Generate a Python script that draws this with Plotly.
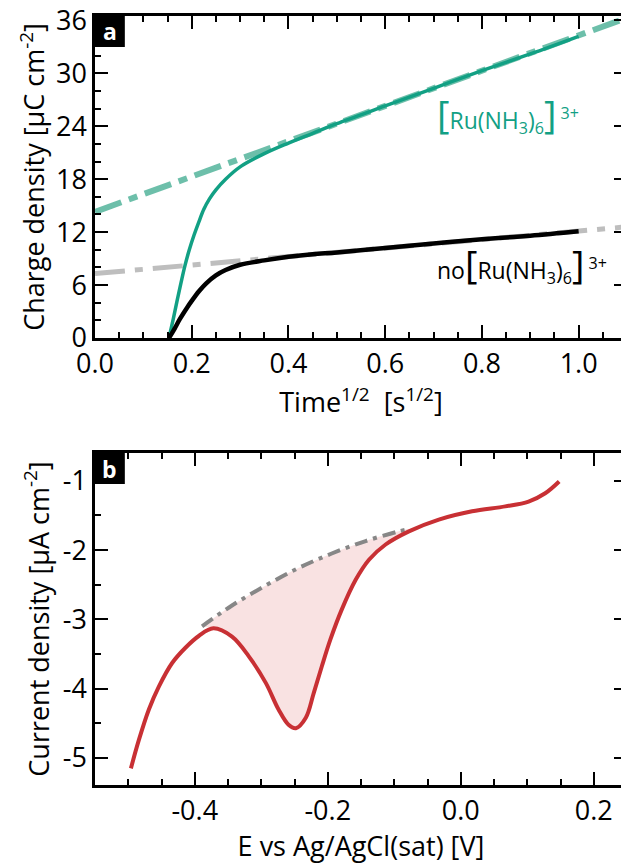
import plotly.graph_objects as go

# ---------------- Panel a data ----------------
t_ru = [0.153, 0.162, 0.170, 0.178, 0.186, 0.195, 0.205, 0.215, 0.225, 0.237, 0.25, 0.27, 0.30, 0.35, 0.40,
        0.45, 0.50, 0.60, 0.70, 0.80, 0.90, 1.00]
q_ru = [0.0, 2.2, 4.3, 6.3, 8.2, 10.0, 11.7, 13.2, 14.6, 15.8, 16.8, 18.0, 19.4, 20.9, 22.1,
        23.2, 24.3, 26.3, 28.3, 30.3, 32.2, 34.2]
t_no = [0.153, 0.165, 0.175, 0.19, 0.20, 0.215, 0.23, 0.25, 0.27, 0.30, 0.35, 0.40, 0.45, 0.50, 0.60,
        0.70, 0.80, 0.90, 1.00]
q_no = [0.0, 1.1, 2.1, 3.4, 4.2, 5.3, 6.2, 7.1, 7.7, 8.3, 8.8, 9.2, 9.5, 9.7, 10.2,
        10.7, 11.2, 11.6, 12.1]
fit_t = [0.0, 1.1]
fit_ru = [14.3, 36.3]
fit_no = [7.3, 12.6]
a_xticks = [0.0, 0.2, 0.4, 0.6, 0.8, 1.0]
a_xticklabels = ["0.0", "0.2", "0.4", "0.6", "0.8", "1.0"]
a_yticks = [0, 6, 12, 18, 24, 30, 36]

# ---------------- Panel b data ----------------
E_red = [-0.496, -0.484, -0.469, -0.454, -0.434, -0.414, -0.394, -0.372, -0.344, -0.319, -0.293,
         -0.274, -0.259, -0.248, -0.233, -0.221, -0.209, -0.196, -0.179, -0.158, -0.138, -0.113,
         -0.078, -0.033, 0.017, 0.067, 0.102, 0.127, 0.148]
j_red = [-5.15, -4.74, -4.30, -3.97, -3.63, -3.41, -3.24, -3.13, -3.25, -3.53, -3.92,
         -4.30, -4.52, -4.57, -4.42, -4.06, -3.68, -3.29, -2.86, -2.43, -2.14, -1.92,
         -1.73, -1.56, -1.44, -1.37, -1.30, -1.18, -1.01]
E_base = [-0.389, -0.344, -0.293, -0.244, -0.194, -0.143, -0.093, -0.078]
j_base = [-3.10, -2.80, -2.51, -2.26, -2.05, -1.87, -1.73, -1.70]
b_xticks = [-0.4, -0.2, 0.0, 0.2]
b_xticklabels = ["-0.4", "-0.2", "0.0", "0.2"]
b_yticks = [-5, -4, -3, -2, -1]
b_yticklabels = ["-5", "-4", "-3", "-2", "-1"]

TEAL = "rgb(18,160,132)"
TEAL_FIT = "rgba(40,160,130,0.68)"
RED = "rgb(200,48,52)"
FONT = "Open Sans"
FS = 27

fig = go.Figure()

# panel a
fig.add_trace(go.Scatter(x=fit_t, y=fit_ru, mode="lines", xaxis="x", yaxis="y",
                         line=dict(color=TEAL_FIT, width=6, dash="28px,8px,9px,8px"), showlegend=False))
fig.add_trace(go.Scatter(x=fit_t, y=fit_no, mode="lines", xaxis="x", yaxis="y",
                         line=dict(color="rgb(190,190,190)", width=5, dash="30px,10px,8px,10px"), showlegend=False))
fig.add_trace(go.Scatter(x=t_ru, y=q_ru, mode="lines", xaxis="x", yaxis="y",
                         line=dict(color=TEAL, width=3.5, shape="spline", smoothing=1.0), showlegend=False))
fig.add_trace(go.Scatter(x=t_no, y=q_no, mode="lines", xaxis="x", yaxis="y",
                         line=dict(color="black", width=4.5, shape="spline", smoothing=1.0), showlegend=False))

# panel b: filled area between baseline and curve
red_seg_x = [e for e in E_red if E_base[0] < e <= E_base[-1]]
red_seg_y = [j for e, j in zip(E_red, j_red) if E_base[0] < e <= E_base[-1]]
poly_x = E_base + red_seg_x[::-1]
poly_y = j_base + red_seg_y[::-1]
fig.add_trace(go.Scatter(x=poly_x, y=poly_y, mode="lines", xaxis="x2", yaxis="y2", fill="toself",
                         fillcolor="rgba(215,60,60,0.15)", line=dict(width=0, shape="spline"),
                         showlegend=False, hoverinfo="skip"))
fig.add_trace(go.Scatter(x=E_base, y=j_base, mode="lines", xaxis="x2", yaxis="y2",
                         line=dict(color="rgb(135,135,135)", width=4, dash="13px,6px,4px,6px", shape="spline"),
                         showlegend=False))
fig.add_trace(go.Scatter(x=E_red, y=j_red, mode="lines", xaxis="x2", yaxis="y2",
                         line=dict(color=RED, width=4, shape="spline", smoothing=1.0), showlegend=False))

axis_common = dict(showline=True, linecolor="black", linewidth=2.5, mirror="ticks",
                   ticks="inside", ticklen=13, tickwidth=2, tickcolor="black",
                   showgrid=False, zeroline=False,
                   tickfont=dict(family=FONT, size=FS, color="black"))

fig.update_layout(
    width=631, height=864,
    margin=dict(l=95, r=1, t=16, b=79),
    paper_bgcolor="white", plot_bgcolor="white",
    font=dict(family=FONT, size=FS, color="black"),
    xaxis=dict(domain=[0, 1], anchor="y", range=[0, 1.1], tickmode="array",
               tickvals=a_xticks, ticktext=a_xticklabels,
               minor=dict(dtick=0.05, tick0=0, ticks="inside", ticklen=6, tickwidth=2, tickcolor="black"),
               title=dict(text="Time<sup>1/2</sup>  [s<sup>1/2</sup>]", standoff=2,
                          font=dict(family=FONT, size=FS)),
               **axis_common),
    yaxis=dict(domain=[0.5813, 1.0], anchor="x", range=[0, 36.5], tickmode="array",
               tickvals=a_yticks, ticktext=[str(v) for v in a_yticks],
               minor=dict(dtick=2, tick0=0, ticks="inside", ticklen=6, tickwidth=2, tickcolor="black"),
               title=dict(text="Charge density [μC cm<sup>-2</sup>]", standoff=4,
                          font=dict(family=FONT, size=FS)),
               **axis_common),
    xaxis2=dict(domain=[0, 1], anchor="y2", range=[-0.55, 0.25], tickmode="array",
                tickvals=b_xticks, ticktext=b_xticklabels,
                minor=dict(dtick=0.05, tick0=0, ticks="inside", ticklen=6, tickwidth=2, tickcolor="black"),
                title=dict(text="E vs Ag/AgCl(sat) [V]", standoff=10,
                           font=dict(family=FONT, size=FS)),
                **axis_common),
    yaxis2=dict(domain=[0, 0.4317], anchor="x2", range=[-5.39, -0.6], tickmode="array",
                tickvals=b_yticks, ticktext=b_yticklabels,
                minor=dict(dtick=0.5, tick0=0, ticks="inside", ticklen=6, tickwidth=2, tickcolor="black"),
                title=dict(text="Current density [μA cm<sup>-2</sup>]", standoff=6,
                           font=dict(family=FONT, size=FS)),
                **axis_common),
)

# panel letter boxes
for xr, yr, letter, h in [("x domain", "y domain", "a", 31 / 322), ("x2 domain", "y2 domain", "b", 31 / 332)]:
    fig.add_shape(type="rect", xref=xr, yref=yr, x0=0, x1=30 / 535, y0=1 - h, y1=1,
                  fillcolor="black", line=dict(width=0), layer="above")
    fig.add_annotation(xref=xr, yref=yr, x=15 / 535, y=1 - h / 2, text=f"<b>{letter}</b>",
                       showarrow=False, xanchor="center", yanchor="middle",
                       font=dict(family=FONT, size=23, color="white"))

BR = "<span style='font-size:38px'>[</span>"
BRC = "<span style='font-size:38px'>]</span>"
fig.add_annotation(xref="x", yref="y", x=0.703, y=25.4, xanchor="left", yanchor="middle",
                   text=BR + "Ru(NH<sub>3</sub>)<sub>6</sub>" + BRC + "<sup> 3+</sup>",
                   showarrow=False, font=dict(family=FONT, size=23, color=TEAL))
fig.add_annotation(xref="x", yref="y", x=0.703, y=8.4, xanchor="left", yanchor="middle",
                   text="no" + BR + "Ru(NH<sub>3</sub>)<sub>6</sub>" + BRC + "<sup> 3+</sup>",
                   showarrow=False, font=dict(family=FONT, size=23, color="black"))

fig.write_html("out.html", config={"displayModeBar": False},
               post_script="document.body.style.margin='0';document.body.style.overflow='hidden';document.documentElement.style.overflow='hidden';")
